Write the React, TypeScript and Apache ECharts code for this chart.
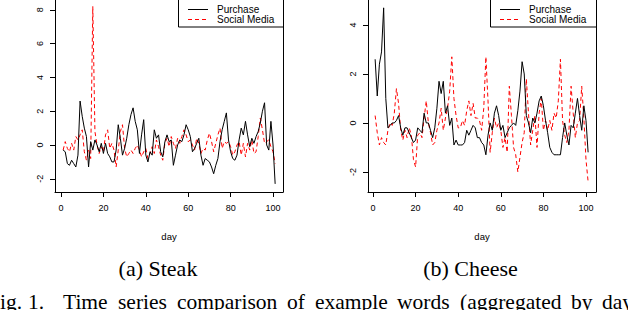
import React, { useEffect, useRef } from "react";
import * as echarts from "echarts";

const days: number[] = Array.from({ length: 101 }, (_, i) => i + 1);
const xTicks: number[] = [0, 20, 40, 60, 80, 100];
const steakYTicks: number[] = [-2, 0, 2, 4, 6, 8];
const cheeseYTicks: number[] = [-2, 0, 2, 4];
const legendNames: string[] = ["Purchase", "Social Media"];

const steakPurchase: number[] = [
  -0.3, -0.4, -1.1, -1.2, -0.9, -1.1, -1.3, -0.6, 2.6, 1.7,
  1.0, 0.5, -1.3, 0.2, -0.3, 0.3, 0.0, -0.4, 0.1, -0.5,
  0.1, -0.5, -0.7, -1.0, -1.0, -0.3, 1.2, 0.4, -0.6, -0.2,
  0.4, 1.2, 1.8, 2.2, 1.4, 0.9, -0.5, 0.6, 1.5, -0.6,
  -1.0, -0.4, -0.6, 0.9, 0.4, 0.6, -0.4, -0.7, 0.2, 0.6,
  0.2, 0.3, -1.2, -0.6, 0.0, 0.3, 0.2, 0.6, 1.2, 0.9,
  0.5, -0.4, -0.2, 0.1, 0.4, -0.6, -1.2, -0.8, -0.9, -1.0,
  -1.3, -1.7, -1.2, -0.8, 0.2, 0.9, 1.4, 1.9, 0.3, -0.4,
  -0.8, -0.9, -0.6, 0.3, 1.0, 0.6, 1.4, 0.6, -0.1, 0.4,
  0.1, 0.5, 0.8, 1.3, 2.0, 2.5, 0.0, -0.3, 1.4, 0.0,
  -2.3,
];

const steakSocial: number[] = [
  -0.3, 0.2, -0.2, -0.4, 0.1, -0.3, 0.5, 0.3, 0.6, 0.9,
  -0.4, -0.9, -0.3, -0.8, 8.2, 0.8, 0.0, -0.5, -0.1, -0.4,
  0.6, 0.9, -0.2, 0.1, -0.3, -1.3, -0.3, 0.8, 1.2, -0.2,
  -0.7, -0.5, -0.3, -0.5, -0.2, 0.0, -0.3, -0.7, -0.4, -0.2,
  -0.8, -0.5, -0.1, -0.5, 0.3, -0.1, -0.6, -0.9, 0.1, 0.4,
  -0.1, 0.5, 0.1, -0.2, 0.4, 0.1, 0.5, 0.9, 0.6, 0.2,
  0.3, 0.0, -0.3, 0.4, 0.1, -0.5, -0.2, -0.3, 0.3, 0.7,
  0.2, -0.4, 0.1, 0.6, 1.0, -0.2, 0.2, 0.1, 0.2, -0.1,
  -0.6, -0.4, 0.0, 0.2, -0.6, 0.1, -0.7, 0.1, -0.3, 0.3,
  -0.5, -0.4, 0.5, 1.6, 0.9, 0.1, 0.2, 0.3, -0.1, -0.4,
  -1.1,
];

const cheesePurchase: number[] = [
  2.6, 1.1, 2.4, 2.9, 4.7, 1.0, -0.2, -0.1, 0.0, 0.0,
  0.1, 0.3, -0.2, -0.5, -0.2, -0.2, -0.4, -0.6, -0.8, -0.7,
  -0.2, -0.3, -0.4, 0.4, 0.0, 0.0, -0.3, -0.6, -0.2, 0.6,
  1.7, 1.2, 1.7, 0.4, 0.7, -0.1, 0.2, -0.9, -0.7, -0.9,
  -0.9, -0.9, -0.8, -0.3, -0.5, -0.3, -0.1, -0.2, -0.6, -0.6,
  -0.8, -0.9, -1.3, -0.5, 0.0, -0.3, 0.4, 0.7, 0.3, -0.3,
  -0.1, -0.6, -0.4, -0.2, -0.1, 0.0, -0.1, 0.5, 1.3, 2.5,
  2.0, 0.3, 0.0, -0.4, 0.2, 0.0, 0.4, 0.9, 1.1, 0.7,
  0.1, -0.4, -1.0, -1.2, -1.3, -1.3, -1.3, -1.3, -0.6, 0.0,
  -0.5, -0.9, -0.1, -0.2, 0.4, 1.0, 0.3, -0.3, 0.7, 0.1,
  -1.2,
];

const cheeseSocial: number[] = [
  0.3, -0.4, -0.9, -0.6, -0.8, -0.9, -0.3, 0.0, -0.1, 0.4,
  1.4, 0.8, -0.3, -0.7, -0.3, -0.6, -0.2, -0.5, -1.5, -1.8,
  -0.5, -0.4, -0.6, 0.2, 0.9, 0.0, -0.4, -0.9, -0.8, -0.3,
  0.0, 0.6, -0.3, 0.2, 0.6, 1.3, 2.7, 1.0, 0.3, -0.2,
  -0.2, 0.1, -0.1, 0.5, 0.9, 0.3, 0.8, 0.2, 0.2, 0.1,
  -0.3, 0.6, 2.7, 0.9, -1.2, -0.4, 0.2, -0.2, 0.0, -0.3,
  -1.0, -0.6, -1.2, 1.5, 0.3, -1.0, -1.3, -2.0, -1.4, -0.8,
  -0.4, 1.8, 0.4, -0.9, -0.3, 0.3, -1.0, 0.4, 1.0, -0.3,
  0.1, -0.3, 0.1, -0.3, 0.4, 0.2, 0.9, 2.6, 0.1, -0.5,
  -0.8, -0.3, 1.5, 0.4, -0.6, 0.0, 0.1, 1.5, 0.2, -1.5,
  -2.4,
];

const captionA = "(a) Steak";
const captionB = "(b) Cheese";
const figCaptionWords: string[] = [
  "Fig.", "1.", "Time", "series", "comparison", "of", "example", "words", "(aggregated", "by", "day)",
];
const figCaptionX: number[] = [-12, 28, 63, 118, 177, 287, 315, 397, 460, 571, 602];

const SANS = '"Liberation Sans", Arial, Helvetica, sans-serif';
const SERIF = '"Liberation Serif", "Times New Roman", serif';

function pairs(ys: number[]): number[][] {
  return ys.map((v, i) => [days[i], v]);
}

export default function App() {
  const ref = useRef<HTMLDivElement>(null);

  useEffect(() => {
    if (!ref.current) return;
    const chart = echarts.init(ref.current, null, { renderer: "svg" });

    const panels = [
      { left: 55, xMin: -2.83, yMin: -2.78, yMax: 8.58, yTicks: steakYTicks, purchase: steakPurchase, social: steakSocial },
      { left: 368, xMin: -2.35, yMin: -2.82, yMax: 5.02, yTicks: cheeseYTicks, purchase: cheesePurchase, social: cheeseSocial },
    ];

    const grids = panels.map((p) => ({ left: p.left, top: 0, width: 228, height: 192, show: false }));

    const xAxes = panels.map((p, i) => ({
      type: "value",
      gridIndex: i,
      min: p.xMin,
      max: 104.7,
      name: "day",
      nameLocation: "middle",
      nameGap: 39,
      nameTextStyle: { fontFamily: SANS, fontSize: 9.5, color: "#000" },
      axisLine: { show: true, onZero: false, lineStyle: { color: "#000", width: 1 } },
      axisTick: { show: true, inside: false, length: 5, customValues: xTicks, lineStyle: { color: "#000", width: 1 } },
      axisLabel: { show: true, customValues: xTicks, margin: 11, fontFamily: SANS, fontSize: 9, color: "#000" },
      splitLine: { show: false },
    }));

    const yAxes: any[] = [];
    panels.forEach((p, i) => {
      yAxes.push({
        type: "value",
        gridIndex: i,
        position: "left",
        min: p.yMin,
        max: p.yMax,
        axisLine: { show: true, onZero: false, lineStyle: { color: "#000", width: 1 } },
        axisTick: { show: true, inside: false, length: 5, customValues: p.yTicks, lineStyle: { color: "#000", width: 1 } },
        axisLabel: { show: true, customValues: p.yTicks, rotate: 90, margin: 11, fontFamily: SANS, fontSize: 9, color: "#000" },
        splitLine: { show: false },
      });
      yAxes.push({
        type: "value",
        gridIndex: i,
        position: "right",
        min: p.yMin,
        max: p.yMax,
        axisLine: { show: true, onZero: false, lineStyle: { color: "#000", width: 1 } },
        axisTick: { show: false },
        axisLabel: { show: false },
        splitLine: { show: false },
      });
    });

    const series: any[] = [];
    panels.forEach((p, i) => {
      series.push({
        type: "line",
        name: legendNames[0],
        xAxisIndex: i,
        yAxisIndex: i * 2,
        data: pairs(p.purchase),
        symbol: "none",
        lineStyle: { color: "#000", width: 1 },
        itemStyle: { color: "#000" },
        silent: true,
        z: 3,
      });
      series.push({
        type: "line",
        name: legendNames[1],
        xAxisIndex: i,
        yAxisIndex: i * 2,
        data: pairs(p.social),
        symbol: "none",
        lineStyle: { color: "#ff0000", width: 1, type: [4, 3] },
        itemStyle: { color: "#ff0000" },
        silent: true,
        z: 2,
      });
    });

    const legendBoxes = [
      { x: 178, w: 105 },
      { x: 490, w: 106 },
    ];
    const graphics: any[] = [];
    legendBoxes.forEach((b) => {
      graphics.push({
        type: "group",
        z: 100,
        children: [
          { type: "rect", shape: { x: b.x + 0.5, y: -5, width: b.w, height: 32 }, style: { fill: "#fff", stroke: "#000", lineWidth: 1 } },
          { type: "line", shape: { x1: b.x + 10, y1: 9.5, x2: b.x + 30, y2: 9.5 }, style: { stroke: "#000", lineWidth: 1 } },
          { type: "line", shape: { x1: b.x + 10, y1: 19.5, x2: b.x + 30, y2: 19.5 }, style: { stroke: "#ff0000", lineWidth: 1, lineDash: [4, 3] } },
          { type: "text", style: { text: legendNames[0], x: b.x + 39, y: 9.5, fill: "#000", font: `10px ${SANS}`, verticalAlign: "middle", align: "left" } },
          { type: "text", style: { text: legendNames[1], x: b.x + 39, y: 19.5, fill: "#000", font: `10px ${SANS}`, verticalAlign: "middle", align: "left" } },
        ],
      });
    });

    graphics.push({ type: "text", z: 100, style: { text: captionA, x: 158, y: 268, fill: "#000", font: `22px ${SERIF}`, align: "center", verticalAlign: "middle" } });
    graphics.push({ type: "text", z: 100, style: { text: captionB, x: 470.5, y: 268, fill: "#000", font: `22px ${SERIF}`, align: "center", verticalAlign: "middle" } });
    figCaptionWords.forEach((w, i) => {
      graphics.push({ type: "text", z: 100, style: { text: w, x: figCaptionX[i], y: 302, fill: "#000", font: `21.5px ${SERIF}`, align: "left", verticalAlign: "middle" } });
    });

    chart.setOption({
      animation: false,
      backgroundColor: "#fff",
      grid: grids,
      xAxis: xAxes,
      yAxis: yAxes,
      series,
      graphic: graphics,
    });

    return () => {
      chart.dispose();
    };
  }, []);

  return (
    <div
      ref={ref}
      style={{ position: "fixed", left: 0, top: 0, width: 628, height: 310, background: "#fff" }}
    />
  );
}
